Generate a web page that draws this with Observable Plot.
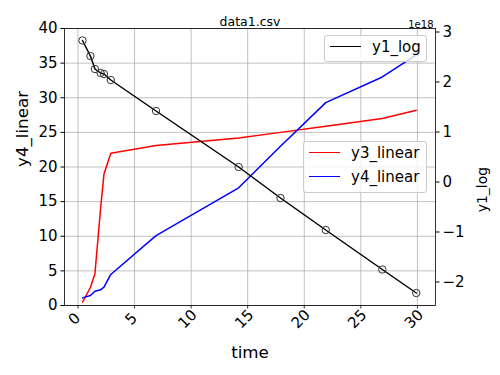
<!DOCTYPE html>
<html><head><meta charset="utf-8">
<script src="https://cdn.jsdelivr.net/npm/d3@7"></script>
<script src="https://cdn.jsdelivr.net/npm/@observablehq/plot@0.6"></script>
<style>
body{margin:0;background:#fff;}
#wrap{position:relative;width:500px;height:375px;font-family:"DejaVu Sans",sans-serif;}
#wrap svg{position:absolute;left:0;top:0;}
.leg{position:absolute;background:rgba(255,255,255,0.8);border:1px solid #cccccc;border-radius:3px;box-sizing:border-box;}
.leg .sw{position:absolute;height:0;border-top:1.5px solid;}
.leg .lb{position:absolute;font-size:15px;line-height:18px;color:#000;white-space:nowrap;}
</style></head><body><div id="wrap"></div>
<script>
// ---- data ----
const time      = [0.4, 1.1, 1.5, 2.0, 2.3, 2.9, 6.9, 14.2, 17.9, 21.9, 26.9, 29.9];
const y1_log    = [2.83e18, 2.52e18, 2.26e18, 2.18e18, 2.16e18, 2.04e18, 1.42e18, 0.30e18, -0.32e18, -0.96e18, -1.75e18, -2.22e18];
const y3_linear = [0.5, 2.6, 4.6, 14, 19, 22, 23.1, 24.2, 25.0, 25.9, 27.0, 28.2];
const y4_linear = [1.1, 1.44, 2.07, 2.27, 2.64, 4.48, 10.1, 17.0, 23.0, 29.3, 33.0, 36.2];
const xTicks  = [0, 5, 10, 15, 20, 25, 30];
const yLTicks = [0, 5, 10, 15, 20, 25, 30, 35, 40];
const yRTicks = [-2, -1, 0, 1, 2, 3];
const title = "data1.csv", xLabel = "time", yLLabel = "y4_linear", yRLabel = "y1_log", offsetText = "1e18";

const rows = time.map((t, i) => ({time: t, y1: y1_log[i], y3: y3_linear[i], y4: y4_linear[i]}));

const common = {
  width: 500, height: 375,
  marginTop: 28, marginRight: 65, marginBottom: 70, marginLeft: 64,
  x: {domain: [-1.19, 31.6], axis: null},
  style: {fontFamily: "DejaVu Sans", fontSize: "15px", background: "transparent", overflow: "visible", color: "black"}
};
const grid = {stroke: "#b0b0b0", strokeOpacity: 1, strokeWidth: 0.8};

const main = Plot.plot({
  ...common,
  y: {domain: [0, 40]},
  marks: [
    Plot.gridX(xTicks, grid),
    Plot.gridY(yLTicks, grid),
    Plot.line(rows, {x: "time", y: "y3", stroke: "#ff0000", strokeWidth: 1.5}),
    Plot.line(rows, {x: "time", y: "y4", stroke: "#0000ff", strokeWidth: 1.5}),
    Plot.frame({stroke: "black", strokeWidth: 0.8}),
    Plot.ruleX(xTicks, {x: d => d, y1: 0, y2: 0, insetBottom: -3.5, stroke: "black", strokeWidth: 0.8}),
    Plot.text(xTicks, {x: d => d, text: d => String(d), frameAnchor: "bottom", dy: 17, rotate: -45, fontSize: 15, fill: "black"}),
    Plot.axisY(yLTicks, {anchor: "left", tickSize: 3.5, tickPadding: 3.5, fontSize: 15, label: null}),
    Plot.text([yLLabel], {frameAnchor: "left", dx: -42, rotate: -90, fontSize: 16.7, fill: "black"}),
    Plot.text([xLabel], {frameAnchor: "bottom", dy: 52, fontSize: 16.7, fill: "black"}),
    Plot.text([title], {frameAnchor: "top", dy: -11, fontSize: 12.5, fill: "black"})
  ]
});

const fmt = v => (v < 0 ? "\u2212" : "") + Math.abs(Math.round(v / 1e18));
const over = Plot.plot({
  ...common,
  y: {domain: [-2.47e18, 3.07e18]},
  marks: [
    Plot.line(rows, {x: "time", y: "y1", stroke: "black", strokeWidth: 1.5}),
    Plot.dot(rows, {x: "time", y: "y1", r: 3.7, stroke: "#333", strokeWidth: 1, fill: "none"}),
    Plot.axisY(yRTicks.map(v => v * 1e18), {anchor: "right", tickSize: 3.5, tickPadding: 3.5, fontSize: 15, tickFormat: fmt, label: null}),
    Plot.text([yRLabel], {frameAnchor: "right", dx: 46.7, rotate: -90, fontSize: 13.9, fill: "black"}),
    Plot.text([offsetText], {frameAnchor: "top-right", textAnchor: "end", dx: -2, dy: -8, fontSize: 10, fill: "black"})
  ]
});

const wrap = document.getElementById("wrap");
wrap.appendChild(main);

function legend(box, items) {
  const d = document.createElement("div");
  d.className = "leg";
  Object.assign(d.style, {left: box[0] + "px", top: box[1] + "px", width: box[2] + "px", height: box[3] + "px"});
  items.forEach(([label, color], i) => {
    const cy = 11 + i * 23.5;
    const s = document.createElement("div");
    s.className = "sw";
    Object.assign(s.style, {left: "5px", width: "31px", top: (cy - 0.75) + "px", borderTopColor: color});
    const t = document.createElement("div");
    t.className = "lb";
    t.textContent = label;
    Object.assign(t.style, {left: "47px", top: (cy - 9) + "px"});
    d.appendChild(s); d.appendChild(t);
  });
  wrap.appendChild(d);
}
legend([303, 141, 124, 52], [["y3_linear", "#ff0000"], ["y4_linear", "#0000ff"]]);
wrap.appendChild(over);
legend([324, 35, 103, 27], [["y1_log", "#000000"]]);
</script></body></html>
